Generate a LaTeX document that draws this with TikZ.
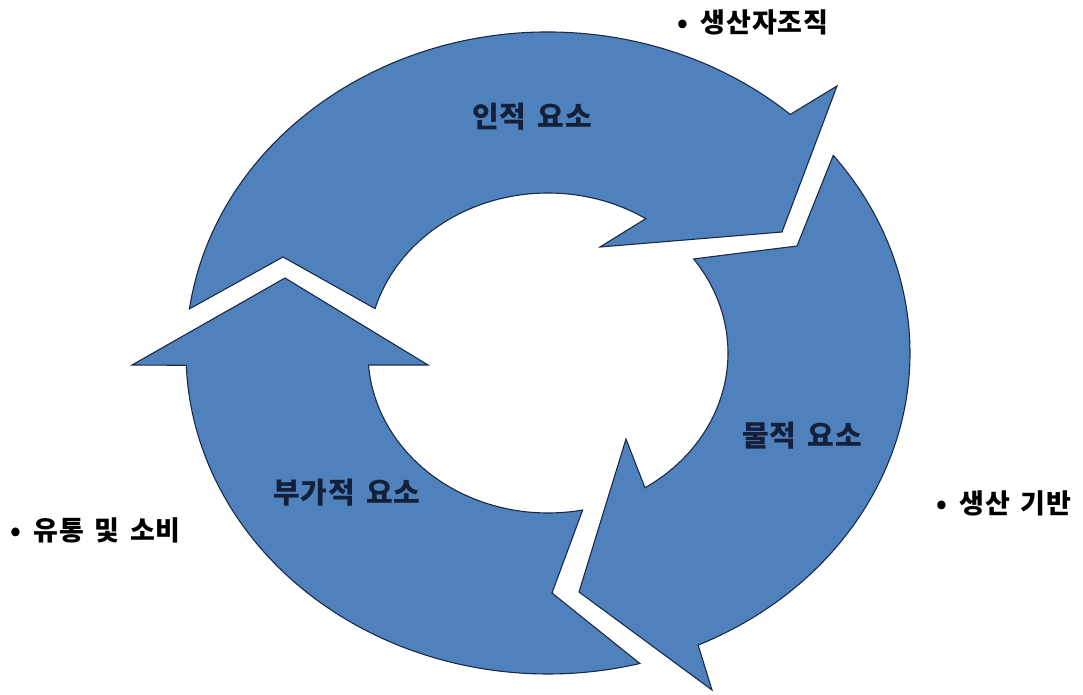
\documentclass[tikz,border=0pt]{standalone}
\usepackage{fontspec}
\newfontfamily\krfont[LetterSpace=3, WordSpace=1.5]{Noto Sans CJK KR}
\definecolor{cycblue}{HTML}{4F81BD}
\definecolor{cycedge}{HTML}{1B2A47}
\definecolor{lbltext}{HTML}{14203A}

\begin{document}
\begin{tikzpicture}[x=1pt, y=1pt,
  cycarrow/.style={fill=cycblue, draw=cycedge, line width=1.1pt, line join=miter},
  inlbl/.style={font=\krfont\bfseries\fontsize{29}{32}\selectfont, text=lbltext},
  outlbl/.style={font=\krfont\bfseries\fontsize{27}{30}\selectfont, anchor=west, inner sep=0pt}]
  \useasboundingbox (-548,-342) rectangle (535,353);
  % upper arrow, tail at the left, head at the upper right
  \draw[cycarrow] (172.1:362 and 321)
    arc[start angle=172.1, end angle=48, x radius=362, y radius=321]
    -- (289,267) -- (234,121) -- (52,106) -- (57.1:180 and 160)
    arc[start angle=57.1, end angle=163.9, x radius=180, y radius=160]
    -- (-265,96) -- cycle;
  % right arrow, head at the bottom
  \draw[cycarrow] (38:362 and 321)
    arc[start angle=38, end angle=-65.5, x radius=362, y radius=321]
    -- (164,-337) -- (31,-239) -- (78,-86) -- (-57.4:180 and 160)
    arc[start angle=-57.4, end angle=36, x radius=180, y radius=160]
    -- (249,107) -- cycle;
  % lower left arrow, head pointing up
  \draw[cycarrow] (-75.3:362 and 321)
    arc[start angle=-75.3, end angle=-177.8, x radius=362, y radius=321]
    -- (-416,-12) -- (-263,75) -- (-120,-12) -- (-175.7:180 and 160)
    arc[start angle=-175.7, end angle=-78.9, x radius=180, y radius=160]
    -- (4,-240) -- cycle;
  % labels in the arrows
  \node[inlbl] (human) at (-16,236) {인적 요소};
  \node[inlbl] (material) at (254,-83) {물적 요소};
  \node[inlbl] (extra) at (-201,-140) {부가적 요소};
  % labels outside
  \node[outlbl] (org) at (129,331) {•\hspace{13pt}생산자조직};
  \node[outlbl] (base) at (388,-150) {•\hspace{13pt}생산 기반};
  \node[outlbl] (dist) at (-538,-177) {•\hspace{13pt}유통 및 소비};
\end{tikzpicture}
\end{document}
